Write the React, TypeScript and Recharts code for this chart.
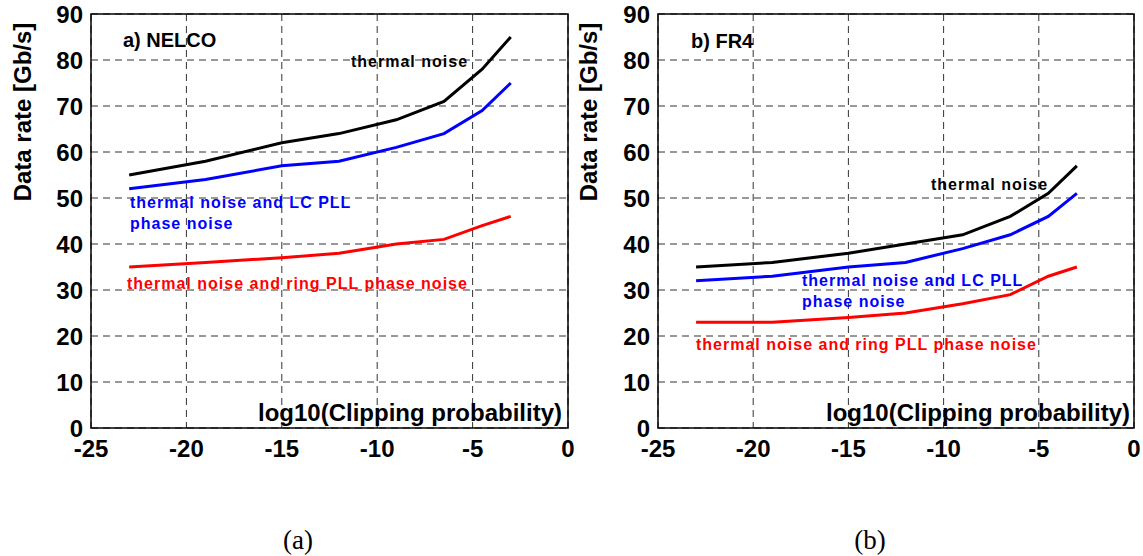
import { LineChart, Line, XAxis, YAxis, CartesianGrid, ReferenceArea } from 'recharts';

// log10(clipping probability) sample points, shared by both panels
const clipLog = [-23, -19, -15, -12, -9, -6.5, -4.5, -3];

// a) NELCO
const nelcoThermal = [55, 58, 62, 64, 67, 71, 78, 85];
const nelcoLcPll = [52, 54, 57, 58, 61, 64, 69, 75];
const nelcoRingPll = [35, 36, 37, 38, 40, 41, 44, 46];

// b) FR4
const fr4Thermal = [35, 36, 38, 40, 42, 46, 51, 57];
const fr4LcPll = [32, 33, 35, 36, 39, 42, 46, 51];
const fr4RingPll = [23, 23, 24, 25, 27, 29, 33, 35];

const xTicks = [-25, -20, -15, -10, -5, 0];
const yTicks = [0, 10, 20, 30, 40, 50, 60, 70, 80, 90];

const FONT = '"Liberation Sans", Arial, sans-serif';
const SERIF = '"Liberation Serif", "Times New Roman", serif';
const tickStyle = { fill: '#000', fontSize: 24, fontWeight: 700, fontFamily: FONT };

const buildRows = (thermal: number[], lc: number[], ring: number[]) =>
  clipLog.map((x, i) => ({ x, thermal: thermal[i], lc: lc[i], ring: ring[i] }));

function Panel({
  rows,
  left,
  width,
  marginLeft,
  marginRight,
}: {
  rows: Array<{ x: number; thermal: number; lc: number; ring: number }>;
  left: number;
  width: number;
  marginLeft: number;
  marginRight: number;
}) {
  return (
    <div style={{ position: 'absolute', left, top: 0 }}>
      <LineChart
        width={width}
        height={470}
        data={rows}
        margin={{ top: 14, right: marginRight, left: marginLeft, bottom: 2 }}
      >
        <CartesianGrid stroke="#333" strokeDasharray="7 5" strokeWidth={1} />
        <XAxis
          type="number"
          dataKey="x"
          domain={[-25, 0]}
          ticks={xTicks}
          height={40}
          axisLine={false}
          tickLine={false}
          tickSize={0}
          tickMargin={12}
          tick={tickStyle}
        />
        <YAxis
          type="number"
          domain={[0, 90]}
          ticks={yTicks}
          width={60}
          axisLine={false}
          tickLine={false}
          tickSize={0}
          tickMargin={8}
          tick={tickStyle}
        />
        <ReferenceArea x1={-25} x2={0} y1={0} y2={90} fill="none" stroke="#000" strokeWidth={1.5} ifOverflow="visible" />
        <Line dataKey="thermal" stroke="#000000" strokeWidth={3} dot={false} isAnimationActive={false} />
        <Line dataKey="lc" stroke="#0000ff" strokeWidth={3} dot={false} isAnimationActive={false} />
        <Line dataKey="ring" stroke="#ff0000" strokeWidth={3} dot={false} isAnimationActive={false} />
      </LineChart>
    </div>
  );
}

const note = { fontFamily: FONT, fontWeight: 700, fontSize: 16, letterSpacing: 1 };
const big = { fontFamily: FONT, fontWeight: 700, fontSize: 24 };
const caption = { fontFamily: SERIF, fontSize: 27 };

export default function App() {
  return (
    <div style={{ position: 'absolute', left: 0, top: 0, width: 1143, height: 556, background: '#fff' }}>
      <Panel rows={buildRows(nelcoThermal, nelcoLcPll, nelcoRingPll)} left={0} width={580} marginLeft={31} marginRight={12} />
      <Panel rows={buildRows(fr4Thermal, fr4LcPll, fr4RingPll)} left={570} width={573} marginLeft={28} marginRight={9} />
      <svg width={1143} height={556} style={{ position: 'absolute', left: 0, top: 0, pointerEvents: 'none' }}>
        {/* panel a */}
        <text x={123} y={47} style={{ ...big, fontSize: 20 }}>a) NELCO</text>
        <text x={351} y={67} fill="#000" style={note}>thermal noise</text>
        <text x={130} y={208} fill="#0000ff" style={note}>thermal noise and LC PLL</text>
        <text x={130} y={229} fill="#0000ff" style={note}>phase noise</text>
        <text x={127} y={289} fill="#ff0000" style={note}>thermal noise and ring PLL phase noise</text>
        <text x={562} y={421} textAnchor="end" style={big}>log10(Clipping probability)</text>
        <text transform="translate(31,112) rotate(-90)" textAnchor="middle" style={big}>Data rate [Gb/s]</text>
        <text x={298} y={549} textAnchor="middle" style={caption}>(a)</text>
        {/* panel b */}
        <text x={691} y={48} style={{ ...big, fontSize: 20 }}>b) FR4</text>
        <text x={931} y={190} fill="#000" style={note}>thermal noise</text>
        <text x={802} y={286} fill="#0000ff" style={note}>thermal noise and LC PLL</text>
        <text x={802} y={307} fill="#0000ff" style={note}>phase noise</text>
        <text x={696} y={350} fill="#ff0000" style={note}>thermal noise and ring PLL phase noise</text>
        <text x={1130} y={421} textAnchor="end" style={big}>log10(Clipping probability)</text>
        <text transform="translate(597,112) rotate(-90)" textAnchor="middle" style={big}>Data rate [Gb/s]</text>
        <text x={870} y={549} textAnchor="middle" style={caption}>(b)</text>
      </svg>
    </div>
  );
}
